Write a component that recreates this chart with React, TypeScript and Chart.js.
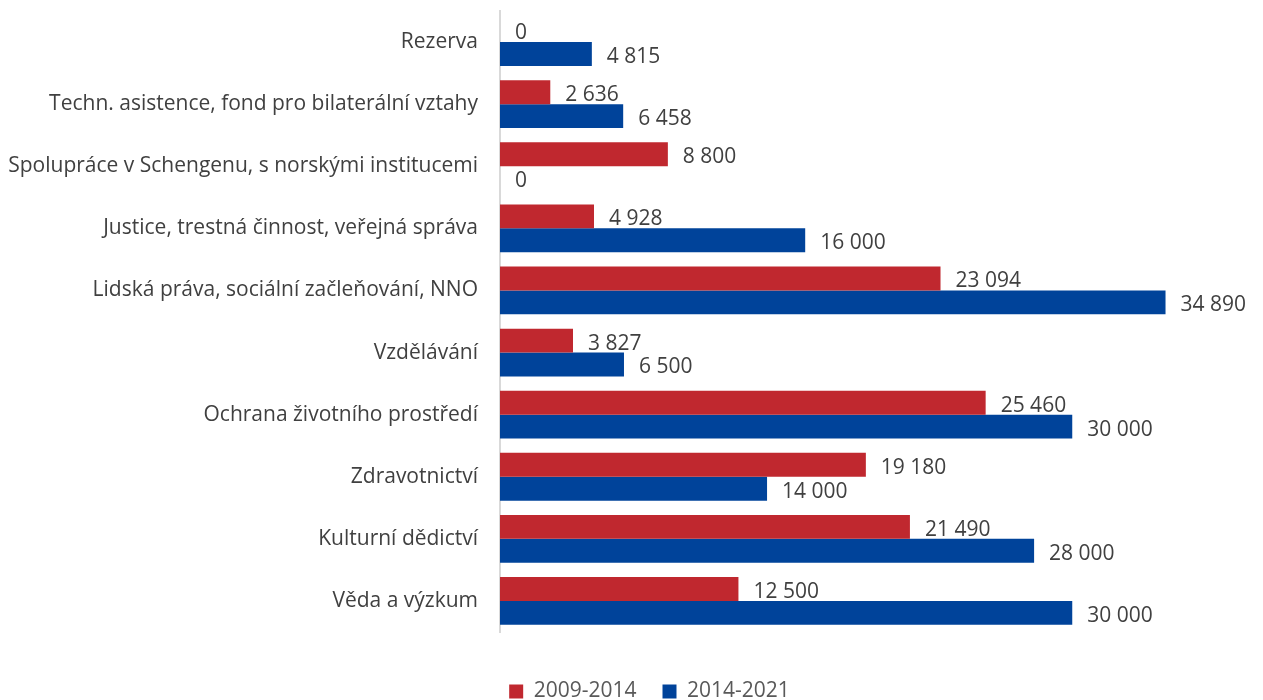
import React, { useEffect, useRef } from "react";
import { Chart, registerables } from "chart.js";

Chart.register(...registerables);

const categories = [
  "Rezerva",
  "Techn. asistence, fond pro bilaterální vztahy",
  "Spolupráce v Schengenu, s norskými institucemi",
  "Justice, trestná činnost, veřejná správa",
  "Lidská práva, sociální začleňování, NNO",
  "Vzdělávání",
  "Ochrana životního prostředí",
  "Zdravotnictví",
  "Kulturní dědictví",
  "Věda a výzkum",
];
const series2009 = [0, 2636, 8800, 4928, 23094, 3827, 25460, 19180, 21490, 12500];
const series2014 = [4815, 6458, 0, 16000, 34890, 6500, 30000, 14000, 28000, 30000];
const seriesNames = ["2009-2014", "2014-2021"];

const FONT = "'Open Sans', sans-serif";
const TEXT = "#404040";

const fmt = (v: number) => String(v).replace(/\B(?=(\d{3})+(?!\d))/g, " ");

const labelPlugin = {
  id: "barLabels",
  afterLayout(chart: any) {
    if (chart.legend) {
      chart.legend.left += 18;
      chart.legend.right += 18;
    }
  },
  afterDatasetsDraw(chart: any) {
    const ctx = chart.ctx;
    ctx.save();
    ctx.font = `21px ${FONT}`;
    ctx.fillStyle = TEXT;
    ctx.textAlign = "left";
    ctx.textBaseline = "middle";
    chart.data.datasets.forEach((ds: any, di: number) => {
      const meta = chart.getDatasetMeta(di);
      meta.data.forEach((bar: any, i: number) => {
        ctx.fillText(fmt(ds.data[i]), bar.x + 15, bar.y + 3);
      });
    });
    ctx.restore();
  },
};

export default function App() {
  const ref = useRef<HTMLCanvasElement | null>(null);
  useEffect(() => {
    document.body.style.margin = "0";
    const chart = new Chart(ref.current!, {
      type: "bar",
      data: {
        labels: categories,
        datasets: [
          { label: seriesNames[0], data: series2009, backgroundColor: "#C0282F" },
          { label: seriesNames[1], data: series2014, backgroundColor: "#00439A" },
        ],
      },
      options: {
        indexAxis: "y",
        animation: false,
        responsive: false,
        maintainAspectRatio: false,
        layout: { padding: { left: 0, top: 11, right: 0, bottom: -12 } },
        datasets: { bar: { categoryPercentage: 0.77, barPercentage: 1 } },
        scales: {
          x: { display: false, min: 0, max: 40000 },
          y: {
            grid: { display: false, drawTicks: false },
            border: { display: true, color: "#D9D9D9", width: 2 },
            ticks: { color: TEXT, font: { family: FONT, size: 21 }, padding: 22 },
            afterFit: (s: any) => {
              s.width = 500;
              s.paddingTop = 0;
              s.paddingBottom = 0;
            },
          },
        },
        plugins: {
          tooltip: { enabled: false },
          legend: {
            position: "bottom",
            title: { display: true, text: " ", font: { size: 10 }, padding: { top: 11, bottom: 0 } },
            labels: {
              color: "#595959",
              font: { family: FONT, size: 21 },
              boxWidth: 14,
              boxHeight: 14,
              padding: 26,
            },
          },
        },
      },
      plugins: [labelPlugin],
    });
    return () => chart.destroy();
  }, []);
  return (
    <div style={{ width: 1263, height: 700 }}>
      <canvas ref={ref} width={1263} height={700} style={{ width: 1263, height: 700 }} />
    </div>
  );
}
